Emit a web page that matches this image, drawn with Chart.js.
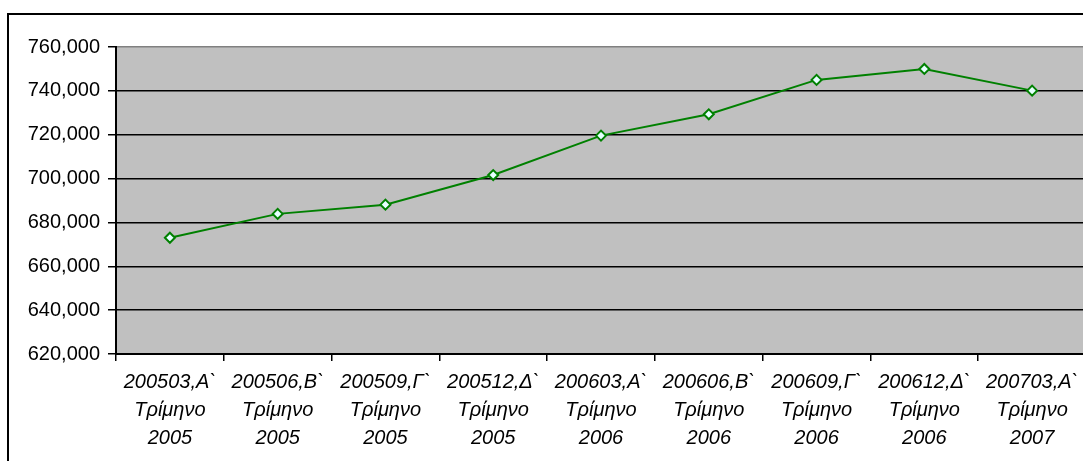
<!DOCTYPE html>
<html><head><meta charset="utf-8">
<script src="https://cdn.jsdelivr.net/npm/chart.js@4"></script>
<style>
html,body{margin:0;padding:0;background:#fff;overflow:hidden;width:1083px;height:461px}
#wrap{position:relative;width:1100px;height:461px}
#frame{position:absolute;left:7px;top:13px;width:1200px;height:600px;border-left:2px solid #000;border-top:2px solid #000;pointer-events:none}
canvas{position:absolute;left:0;top:0}
</style></head>
<body><div id="wrap"><canvas id="c" width="1100" height="461"></canvas><div id="frame"></div></div>
<script>
const categories = [
  ['200503,Α`','Τρίμηνο','2005'],
  ['200506,Β`','Τρίμηνο','2005'],
  ['200509,Γ`','Τρίμηνο','2005'],
  ['200512,Δ`','Τρίμηνο','2005'],
  ['200603,Α`','Τρίμηνο','2006'],
  ['200606,Β`','Τρίμηνο','2006'],
  ['200609,Γ`','Τρίμηνο','2006'],
  ['200612,Δ`','Τρίμηνο','2006'],
  ['200703,Α`','Τρίμηνο','2007']
];
const values = [673000, 683900, 688100, 701600, 719600, 729300, 745000, 750000, 740100];
const yMin = 620000;
const yMax = 760000;
const yStep = 20000;

const plotBg = {
  id: 'plotBg',
  beforeDraw(chart) {
    const a = chart.chartArea, ctx = chart.ctx;
    ctx.save();
    ctx.fillStyle = '#C0C0C0';
    ctx.fillRect(a.left, a.top, a.right - a.left, a.bottom - a.top);
    ctx.restore();
  }
};

const FONT = {family: "'Liberation Sans', Arial, sans-serif", size: 20};

new Chart(document.getElementById('c'), {
  type: 'line',
  data: {
    labels: categories,
    datasets: [{
      data: values,
      borderColor: '#008000',
      borderWidth: 2,
      tension: 0,
      fill: false,
      pointStyle: 'rectRot',
      pointRadius: 5,
      pointBackgroundColor: '#E6FFFF',
      pointBorderColor: '#008000',
      pointBorderWidth: 2,
      clip: false
    }]
  },
  options: {
    responsive: false,
    animation: false,
    layout: {padding: {left: 0, top: 47, right: 14, bottom: 0}},
    plugins: {legend: {display: false}, tooltip: {enabled: false}, title: {display: false}},
    scales: {
      x: {
        type: 'category',
        offset: true,
        afterFit(s) { s.height = 107; },
        grid: {offset: true, drawOnChartArea: false, drawTicks: true, tickLength: 7, color: '#000', lineWidth: 1.5},
        border: {display: true, color: '#000', width: 2},
        ticks: {font: {...FONT, style: 'italic', lineHeight: 1.38}, color: '#000', maxRotation: 0, minRotation: 0, autoSkip: false, padding: 8}
      },
      y: {
        min: yMin, max: yMax,
        afterFit(s) { s.width = 116; },
        grid: {
          color: (ctx) => (ctx.tick && ctx.tick.value === yMax) ? '#808080' : '#000',
          tickColor: '#000',
          lineWidth: 1.5, tickLength: 8, drawTicks: true
        },
        border: {display: true, color: '#000', width: 2},
        ticks: {
          stepSize: yStep, padding: 8, color: '#000', font: FONT,
          callback: (v) => Number(v).toLocaleString('en-US')
        }
      }
    }
  },
  plugins: [plotBg]
});
</script>
</body></html>
